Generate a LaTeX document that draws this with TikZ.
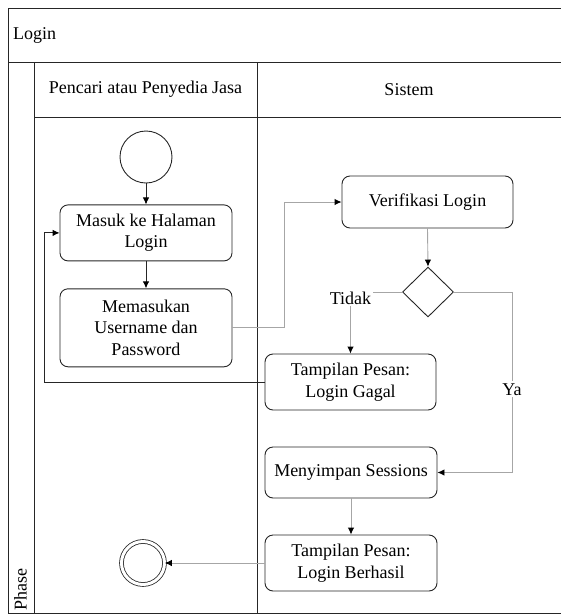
\documentclass[tikz,border=0pt]{standalone}
\usepackage{fontspec}
\setmainfont{Liberation Serif}
\newfontfamily\diagfont{Liberation Serif}
\usetikzlibrary{positioning,shapes.geometric,arrows.meta}

\begin{document}
\begin{tikzpicture}[x=1pt,y=-1pt,font=\diagfont\fontsize{18}{21.5}\selectfont,
	>={Latex[length=7pt,width=6.5pt,color=black]},
	frame/.style={line width=0.9pt,draw=black!85},
	anode/.style={rectangle,rounded corners=8pt,draw=black!85,line width=0.9pt,align=center,minimum width=172pt,inner sep=0pt},
	dnode/.style={diamond,draw=black!85,line width=0.9pt,minimum width=51pt,minimum height=50pt,inner sep=0pt},
	snode/.style={circle,draw=black!85,line width=0.9pt,minimum size=52pt,inner sep=0pt},
	enode/.style={circle,draw=black!85,line width=0.8pt,double,double distance=3pt,minimum size=43pt,inner sep=0pt},
	bline/.style={line width=0.9pt,draw=black!85,->},
	gline/.style={line width=0.9pt,draw=black!35,->},
	lbl/.style={fill=white,inner sep=2pt}]
	\useasboundingbox (0,0) rectangle (561,614);
	% swimlanes
	\draw[frame] (561,8) -- (8,8) -- (8,613) -- (561,613);
	\draw[frame] (8,62) -- (561,62);
	\draw[frame] (34,117) -- (561,117);
	\draw[frame] (34,62) -- (34,613);
	\draw[frame] (257,62) -- (257,613);
	\node[anchor=west,inner sep=0pt] (title) at (13,35) {Login};
	\node (lane1) at (145.5,89.5) {Pencari atau Penyedia Jasa};
	\node (lane2) at (409,89.5) {Sistem};
	\node[rotate=90,anchor=west,inner sep=0pt] (phase) at (20.5,611) {Phase};
	% activities
	\node[snode] (start) at (146,157) {};
	\node[anode,minimum height=56pt] (masuk) [below = 21pt of start] {Masuk ke Halaman\\Login};
	\node[anode,minimum height=78pt] (input) [below = 27pt of masuk] {Memasukan\\Username dan\\Password};
	\node[anode,minimum width=171pt,minimum height=52pt] (verif) at (427.5,202) {Verifikasi Login};
	\node[dnode] (cek) at (428,292) {};
	\node[anode,minimum width=171pt,minimum height=56pt] (gagal) at (350.5,382) {Tampilan Pesan:\\Login Gagal};
	\node[anode,minimum height=51pt] (simpan) at (351,472.5) {Menyimpan Sessions};
	\node[anode,minimum height=56pt] (berhasil) at (351,563) {Tampilan Pesan:\\Login Berhasil};
	\node[enode] (finish) at (143,563) {};
	% flows
	\draw[bline] (start.south) -- (masuk.north);
	\draw[bline] (masuk.south) -- (input.north);
	\draw[gline] (input.east) -- ++(52,0) |- (verif.west);
	\draw[gline] (verif.south) -- (cek.north);
	\draw[gline] (cek.west) -| node[lbl,yshift=-6pt] {Tidak} (gagal.north);
	\draw[gline] (cek.east) -- ++(58,0) |- node[lbl,pos=0.27] {Ya} (simpan.east);
	\draw[bline] (gagal.west) -| ([xshift=-15pt]masuk.west) -- (masuk.west);
	\draw[gline] (simpan.south) -- (berhasil.north);
	\draw[gline] (berhasil.west) -- (finish.east);
\end{tikzpicture}
\end{document}
